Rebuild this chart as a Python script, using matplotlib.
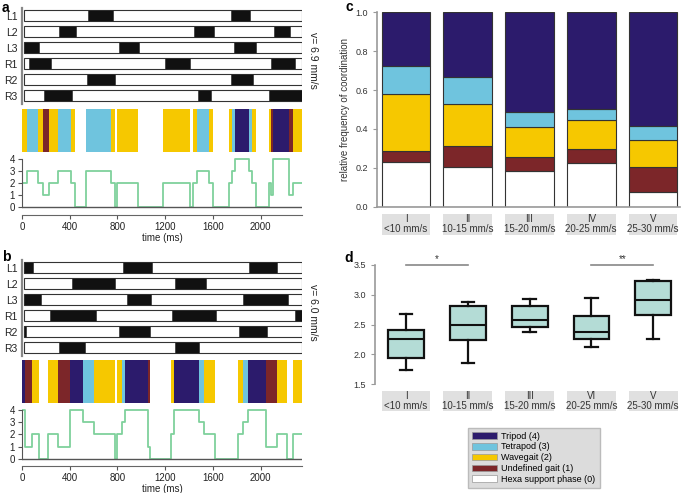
import numpy as np
import matplotlib
matplotlib.use("Agg")
import matplotlib.pyplot as plt
import matplotlib.transforms as mtransforms
from matplotlib.patches import Patch, Rectangle

plt.rcParams['font.family'] = ['Liberation Sans', 'DejaVu Sans']

W, H = 685, 493

# ---- data ----
legs = ["L1", "L2", "L3", "R1", "R2", "R3"]
rec_start, rec_end = 17, 2346

# stance phases (ms) per leg, panel a (v = 6.9 mm/s)
a_stance = [
    [(551, 760), (1749, 1914)],
    [(313, 453), (1442, 1609), (2112, 2246)],
    [(17, 145), (816, 983), (1777, 1961)],
    [(61, 240), (1196, 1408), (2084, 2288)],
    [(545, 780), (1749, 1939)],
    [(182, 416), (1475, 1582), (2067, 2346)],
]
# coordination state segments, panel a
a_edges = [0, 39, 131, 173, 229, 299, 408, 441, 536, 749, 779, 799, 975, 1184,
           1408, 1430, 1464, 1570, 1603, 1732, 1760, 1782, 1899, 1927, 1961,
           2067, 2084, 2101, 2235, 2274, 2346]
a_states = [2, 3, 2, 1, 2, 3, 2, 0, 3, 2, 0, 2, 0, 2, 0, 2, 3, 2, 0, 2, 3, 4,
            3, 2, 0, 2, 1, 4, 1, 2]

# panel b (v = 6.0 mm/s)
b_stance = [
    [(17, 95), (844, 1087), (1899, 2140)],
    [(416, 779), (1279, 1542)],
    [(17, 156), (877, 1081), (1855, 2232)],
    [(235, 620), (1257, 1626), (2285, 2346)],
    [(17, 34), (810, 1073), (1821, 2056)],
    [(310, 531), (1279, 1486)],
]
b_edges = [0, 25, 84, 145, 215, 304, 405, 514, 603, 779, 793, 835, 866, 1059,
           1073, 1246, 1271, 1480, 1528, 1620, 1813, 1852, 1897, 2045, 2137,
           2221, 2274, 2346]
b_states = [4, 1, 2, 0, 2, 1, 4, 3, 2, 0, 2, 3, 4, 1, 0, 2, 4, 3, 2, 0, 2, 3,
            4, 1, 2, 0, 2]

# panel c: relative frequency per speed class
c_labels = ["I\n<10 mm/s", "II\n10-15 mm/s", "III\n15-20 mm/s",
            "IV\n20-25 mm/s", "V\n25-30 mm/s"]
c_hexa = [0.228, 0.204, 0.184, 0.223, 0.074]
c_undef = [0.059, 0.107, 0.070, 0.074, 0.130]
c_wave = [0.294, 0.219, 0.155, 0.151, 0.141]
c_tetra = [0.145, 0.136, 0.077, 0.055, 0.072]
c_tri = [0.274, 0.334, 0.514, 0.497, 0.583]

# panel d: box stats
d_labels = ["I\n<10 mm/s", "II\n10-15 mm/s", "III\n15-20 mm/s",
            "VI\n20-25 mm/s", "V\n25-30 mm/s"]
d_whislo = [1.746, 1.863, 2.377, 2.126, 2.26]
d_q1 = [1.947, 2.243, 2.455, 2.254, 2.662]
d_med = [2.254, 2.489, 2.584, 2.383, 2.908]
d_q3 = [2.411, 2.807, 2.807, 2.64, 3.232]
d_whishi = [2.673, 2.885, 2.936, 2.947, 3.254]
d_sig = [(0, 1, "*"), (3, 4, "**")]

state_names = ["Hexa support phase (0)", "Undefined gait (1)", "Wavegait (2)",
               "Tetrapod (3)", "Tripod (4)"]
state_colors = ["#ffffff", "#7c2629", "#f6c800", "#6fc4de", "#2c1b6c"]
line_green = "#7fd19c"

fig = plt.figure(figsize=(W / 100, H / 100), dpi=100)


def add_ax(x0, y0, x1, y1):
    return fig.add_axes([x0 / W, 1 - y1 / H, (x1 - x0) / W, (y1 - y0) / H])


def draw_gait(ax, stance):
    for i, segs in enumerate(stance):
        ax.barh(i, rec_end - rec_start, left=rec_start, height=0.68,
                color="white", edgecolor="#333333", lw=0.8)
        ax.broken_barh([(s, e - s) for s, e in segs], (i - 0.34, 0.68),
                       facecolor="#111111", edgecolor="#333333", lw=0.5)
    ax.set_xlim(0, 2346)
    ax.set_ylim(5.5, -0.5)
    ax.set_yticks(range(len(legs)))
    ax.set_yticklabels(legs, fontsize=7.5, color="#222222")
    ax.set_xticks([])
    ax.tick_params(length=0, pad=3)
    for s in ["top", "right", "bottom"]:
        ax.spines[s].set_visible(False)
    ax.spines["left"].set_color("#888888")
    ax.spines["left"].set_linewidth(1.6)


def draw_strip(ax, edges, states):
    for s, e, st in zip(edges[:-1], edges[1:], states):
        if st:
            ax.axvspan(s, e, color=state_colors[st], lw=0)
    ax.set_xlim(0, 2346)
    ax.axis("off")


def draw_steps(ax, edges, states):
    ax.plot(edges, states + [states[-1]], drawstyle="steps-post",
            color=line_green, lw=1.3)
    ax.axhline(0, color="#555555", lw=1, zorder=3)
    ax.set_xlim(0, 2346)
    ax.set_ylim(-0.62, 4.2)
    ax.set_yticks(range(5))
    ax.set_xticks(np.arange(0, 2001, 400))
    ax.tick_params(labelsize=7, length=3, width=0.8, color="#555555",
                   labelcolor="#222222", pad=2)
    for s in ["top", "right"]:
        ax.spines[s].set_visible(False)
    ax.spines["left"].set_bounds(0, 4)
    ax.spines["left"].set_color("#555555")
    ax.spines["bottom"].set_color("#666666")
    ax.set_xlabel("time (ms)", fontsize=7, labelpad=1, color="#222222")


def label_boxes(ax, labels, y0, h, ty):
    trans = mtransforms.blended_transform_factory(ax.transData, ax.transAxes)
    for i, lab in enumerate(labels):
        ax.add_patch(Rectangle((i - 0.395, y0), 0.79, h, transform=trans,
                               facecolor="#e0e0e0", lw=0, clip_on=False))
        ax.text(i, ty, lab, transform=trans, ha="center", va="center",
                fontsize=7, linespacing=1.05, color="#333333")


# ---- panel a ----
draw_gait(add_ax(22, 7.7, 302, 103.7), a_stance)
draw_strip(add_ax(22, 109, 302, 152), a_edges, a_states)
draw_steps(add_ax(22, 156.3, 302, 215), a_edges, a_states)
fig.text(313 / W, 1 - 60 / H, "v= 6.9 mm/s", rotation=270, fontsize=7.5,
         ha="center", va="center", color="#222222")
fig.text(2 / W, 1 - 0.5 / H, "a", fontsize=10, fontweight="bold", va="top")

# ---- panel b ----
draw_gait(add_ax(22, 259.6, 302, 355.9), b_stance)
draw_strip(add_ax(22, 360, 302, 403.3), b_edges, b_states)
draw_steps(add_ax(22, 408, 302, 466), b_edges, b_states)
fig.text(313 / W, 1 - 312 / H, "v= 6.0 mm/s", rotation=270, fontsize=7.5,
         ha="center", va="center", color="#222222")
fig.text(2 / W, 1 - 250 / H, "b", fontsize=10, fontweight="bold", va="top")

# ---- panel c ----
ax_c = add_ax(377, 12.3, 680, 206.7)
x = np.arange(len(c_labels))
bottom = np.zeros(len(c_labels))
for vals, col in zip([c_hexa, c_undef, c_wave, c_tetra, c_tri], state_colors):
    ax_c.bar(x, vals, bottom=bottom, width=0.79, color=col,
             edgecolor="#333333", lw=0.8)
    bottom += np.array(vals)
ax_c.set_xlim(-0.469, 4.437)
ax_c.set_ylim(0, 1)
ax_c.set_yticks(np.arange(0, 1.01, 0.2))
ax_c.set_yticklabels([f"{v:.1f}" for v in np.arange(0, 1.01, 0.2)])
ax_c.set_xticks([])
ax_c.tick_params(labelsize=6.5, length=3, color="#999999", labelcolor="#333333")
ax_c.set_ylabel("relative frequency of coordination", fontsize=7,
                color="#333333", labelpad=4)
for s in ["top", "right"]:
    ax_c.spines[s].set_visible(False)
for s in ["left", "bottom"]:
    ax_c.spines[s].set_color("#999999")
    ax_c.spines[s].set_linewidth(1.2)
label_boxes(ax_c, c_labels, -0.144, 0.108, -0.09)
fig.text(345 / W, 1 - 7 / H, "c", fontsize=10, fontweight="bold", va="center")

# ---- panel d ----
ax_d = add_ax(375, 265, 680, 384.3)
stats = [dict(med=m, q1=a, q3=b, whislo=lo, whishi=hi, fliers=[])
         for m, a, b, lo, hi in zip(d_med, d_q1, d_q3, d_whislo, d_whishi)]
ax_d.bxp(stats, positions=np.arange(len(stats)), widths=0.58,
         patch_artist=True, showfliers=False, capwidths=0.2,
         boxprops=dict(facecolor="#b4dcd6", edgecolor="#111111", lw=1.6),
         whiskerprops=dict(color="#111111", lw=1.6),
         capprops=dict(color="#111111", lw=1.6),
         medianprops=dict(color="#111111", lw=1.5))
ax_d.set_xlim(-0.502, 4.433)
ax_d.set_ylim(1.5, 3.5)
ax_d.set_yticks(np.arange(1.5, 3.51, 0.5))
ax_d.set_yticklabels([f"{v:.1f}" for v in np.arange(1.5, 3.51, 0.5)])
ax_d.set_xticks([])
ax_d.tick_params(labelsize=6.5, length=3, color="#999999", labelcolor="#333333")
for s in ["top", "right", "bottom"]:
    ax_d.spines[s].set_visible(False)
ax_d.spines["left"].set_color("#999999")
ax_d.spines["left"].set_linewidth(1.2)
for i0, i1, star in d_sig:
    ax_d.plot([i0, i1], [3.5, 3.5], color="#888888", lw=1.2, clip_on=False)
    ax_d.text((i0 + i1) / 2, 3.52, star, ha="center", va="bottom",
              fontsize=7, color="#333333")
label_boxes(ax_d, d_labels, -0.224, 0.168, -0.14)
fig.text(344 / W, 1 - 258 / H, "d", fontsize=10, fontweight="bold", va="center")

# ---- legend ----
order = [4, 3, 2, 1, 0]
handles = [Patch(facecolor=state_colors[i], edgecolor="#999999", lw=0.5,
                 label=state_names[i]) for i in order]
fig.legend(handles=handles, loc="upper left",
           bbox_to_anchor=(463 / W, 1 - 423 / H), frameon=True,
           facecolor="#dcdcdc", edgecolor="#bbbbbb", framealpha=1,
           fancybox=False, fontsize=6.5, handlelength=2.8, handleheight=0.75,
           labelspacing=0.2, borderpad=0.45, handletextpad=0.5)

fig.savefig("out.png", dpi=100)
